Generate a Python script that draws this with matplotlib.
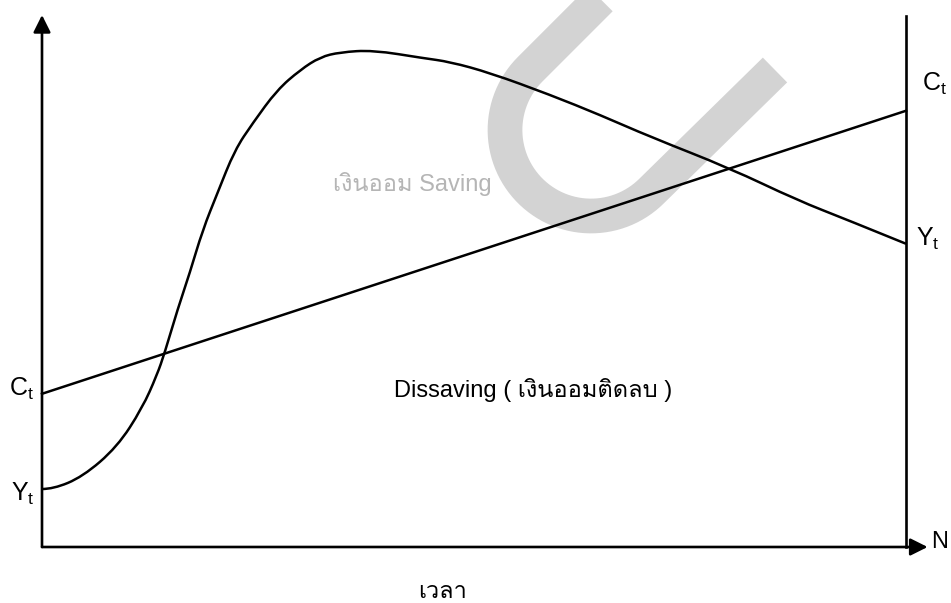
"""Life-cycle income (Y_t) and consumption (C_t) diagram."""

import numpy as np
import matplotlib
matplotlib.use("Agg")
import matplotlib.pyplot as plt
from matplotlib import font_manager, ft2font
from matplotlib.path import Path
from matplotlib.patches import PathPatch

# --- data (time axis 0..100, value axis 0..100) ---
time_yt = [0, 1.3, 4.7, 8.7, 11.6, 13.3, 14.2, 15.7, 17.1, 18.6, 20.3, 22.3,
           24.4, 27.2, 29.9, 32.2, 34.5, 38.3, 44.1, 47.2, 51.9, 58.8, 64.6,
           70.4, 79.6, 87.4, 93.2, 100]
income_yt = [10.9, 10.9, 13.2, 18.8, 26.1, 32.3, 36.5, 44.7, 51.5, 59.6, 66.5,
             74.6, 79.7, 85.9, 89.7, 92.1, 93.0, 93.4, 91.9, 91.2, 89.1, 85.0,
             81.2, 77.1, 71.2, 65.2, 61.5, 57.0]
time_ct = [0, 100]
consumption_ct = [28.8, 82.0]

label_dissaving = "Dissaving ( เงินออมติดลบ )"
label_saving = "เงินออม Saving"
label_time = "เวลา"


def find_thai_font():
    for f in font_manager.fontManager.ttflist:
        try:
            cmap = ft2font.FT2Font(f.fname).get_charmap()
        except Exception:
            continue
        if 0x0E07 in cmap and 0x0E40 in cmap and 0x0E2D in cmap:
            return f.name
    return None


def smooth_path(xs, ys):
    # quadratic bezier through midpoints, data points act as control points
    pts = list(zip(xs, ys))
    verts = [pts[0]]
    codes = [Path.MOVETO]
    for i in range(1, len(pts) - 1):
        mid = ((pts[i][0] + pts[i + 1][0]) / 2, (pts[i][1] + pts[i + 1][1]) / 2)
        if i == len(pts) - 2:
            mid = pts[-1]
        verts += [pts[i], mid]
        codes += [Path.CURVE3, Path.CURVE3]
    return Path(verts, codes)


def main():
    thai = find_thai_font()
    families = ["Liberation Sans"] + ([thai] if thai else []) + ["DejaVu Sans"]
    plt.rcParams["font.family"] = families
    plt.rcParams["mathtext.default"] = "regular"

    W, H = 951, 603
    fig = plt.figure(figsize=(W / 100, H / 100), dpi=100)

    # background layer in pixel units for the grey watermark
    bg = fig.add_axes([0, 0, 1, 1], zorder=0)
    bg.set_xlim(0, W)
    bg.set_ylim(H, 0)
    bg.axis("off")
    cx, cy, r = 591, 130, 86
    ang = np.linspace(np.deg2rad(225), np.deg2rad(45), 60)
    arc_x = cx + r * np.cos(ang)
    arc_y = cy + r * np.sin(ang)
    wx = np.concatenate([[arc_x[0] + 120], arc_x, [775]])
    wy = np.concatenate([[arc_y[0] - 120], arc_y, [70]])
    bg.plot(wx, wy, color="#d3d3d3", lw=25, solid_capstyle="butt",
            solid_joinstyle="round")

    left, bottom = 42 / W, (H - 547) / H
    ax = fig.add_axes([left, bottom, 864 / W, 532 / H], zorder=1)
    ax.patch.set_alpha(0)
    ax.set_xlim(0, 100)
    ax.set_ylim(0, 100)
    ax.axis("off")

    lw_axis = 1.9
    # axes with arrows
    ax.annotate("", xy=(0, 100), xytext=(0, 0),
                arrowprops=dict(arrowstyle="-|>", color="black", lw=lw_axis,
                                mutation_scale=26, shrinkA=0, shrinkB=0),
                annotation_clip=False)
    ax.annotate("", xy=(102.5, 0), xytext=(0, 0),
                arrowprops=dict(arrowstyle="-|>", color="black", lw=lw_axis,
                                mutation_scale=26, shrinkA=0, shrinkB=0),
                annotation_clip=False)
    ax.plot([100, 100], [0, 99.8], color="black", lw=lw_axis, clip_on=False)

    ax.plot(time_ct, consumption_ct, color="black", lw=1.8, clip_on=False)
    ax.add_patch(PathPatch(smooth_path(time_yt, income_yt), facecolor="none",
                           edgecolor="black", lw=1.8, clip_on=False))

    # labels
    ax.text(-0.9, consumption_ct[0] + 1, "C$_t$", fontsize=18, ha="right",
            va="center")
    ax.text(-0.9, income_yt[0] - 1, "Y$_t$", fontsize=18, ha="right",
            va="center")
    ax.text(101.9, 87.0, "C$_t$", fontsize=18, ha="left", va="center")
    ax.text(101.1, income_yt[-1] + 1, "Y$_t$", fontsize=18, ha="left",
            va="center")
    ax.text(102.9, 1, "N", fontsize=17, ha="left", va="center")

    ax.text(40.7, 29.5, label_dissaving, fontsize=17, ha="left", va="center")
    ax.text(33.7, 68.3, label_saving, fontsize=17, ha="left", va="center",
            color="#b5b5b5")
    ax.text(46.4, -8.5, label_time, fontsize=17, ha="center", va="center")

    fig.savefig("out.png", dpi=100)


if __name__ == "__main__":
    main()
